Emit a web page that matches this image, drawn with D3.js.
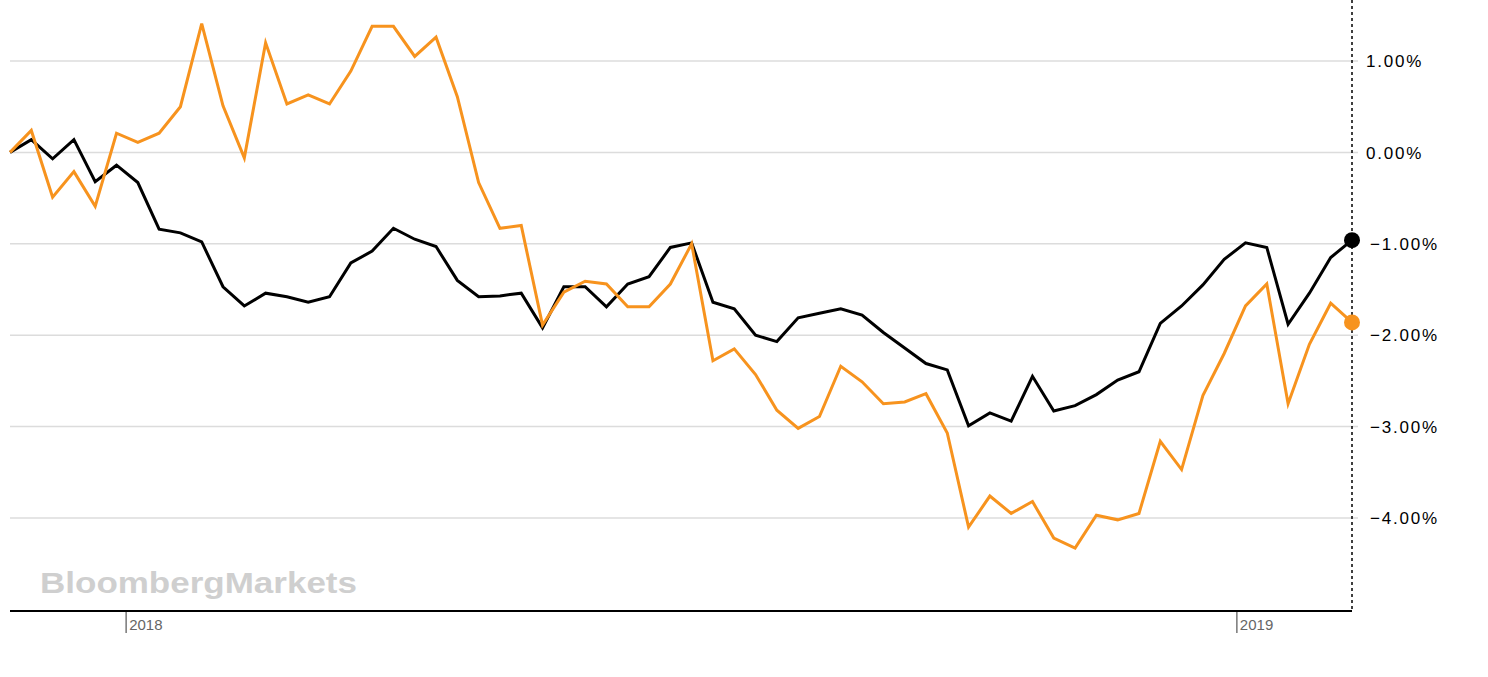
<!DOCTYPE html>
<html><head><meta charset="utf-8">
<script src="https://cdn.jsdelivr.net/npm/d3@7/dist/d3.min.js"></script>
<style>
html,body{margin:0;padding:0;background:#fff;}
svg{display:block;}
</style></head>
<body>
<svg id="chart" width="1488" height="677"></svg>
<script>
// weekly observations, starting Friday 24 Nov 2017
const startDate = new Date(2017, 10, 24);
const blackSeries = [0,0.14,-0.07,0.14,-0.32,-0.14,-0.33,-0.84,-0.88,-0.98,-1.47,-1.68,-1.54,-1.58,-1.64,-1.58,
  -1.21,-1.08,-0.83,-0.95,-1.03,-1.40,-1.58,-1.57,-1.54,-1.92,-1.47,-1.47,-1.69,-1.44,-1.36,-1.04,
  -0.99,-1.64,-1.71,-2.00,-2.07,-1.81,-1.76,-1.71,-1.78,-1.97,-2.14,-2.31,-2.38,-2.99,-2.85,-2.94,
  -2.45,-2.83,-2.77,-2.65,-2.49,-2.40,-1.87,-1.68,-1.45,-1.17,-0.99,-1.04,-1.88,-1.54,-1.15,-0.96];
const orangeSeries = [0,0.24,-0.49,-0.21,-0.59,0.21,0.11,0.21,0.50,1.41,0.51,-0.06,1.20,0.53,0.63,0.53,
  0.89,1.38,1.38,1.05,1.26,0.61,-0.33,-0.83,-0.80,-1.89,-1.53,-1.41,-1.44,-1.69,-1.69,-1.44,
  -1.00,-2.28,-2.15,-2.43,-2.82,-3.02,-2.89,-2.34,-2.51,-2.75,-2.73,-2.64,-3.07,-4.10,-3.76,-3.95,
  -3.82,-4.22,-4.33,-3.97,-4.02,-3.95,-3.16,-3.47,-2.66,-2.20,-1.68,-1.44,-2.75,-2.10,-1.65,-1.86];
const yTicks = [1,0,-1,-2,-3,-4];
const xTickDates = [new Date(2018,0,1), new Date(2019,0,1)];
const xTickLabels = ["2018","2019"];

const dates = blackSeries.map((_, i) => d3.timeDay.offset(startDate, 7*i));

const svg = d3.select("#chart");
const x = d3.scaleTime().domain([dates[0], dates[dates.length-1]]).range([10, 1352]);
const y = d3.scaleLinear().domain([1, -4]).range([61, 518]);

// gridlines
svg.append("g").selectAll("line").data(yTicks).join("line")
  .attr("x1", 10).attr("x2", 1358)
  .attr("y1", d => y(d)).attr("y2", d => y(d))
  .attr("stroke", "#dcdcdc").attr("stroke-width", 1.5);

// right axis labels
const yAxis = d3.axisRight(y).tickValues(yTicks).tickSize(0).tickPadding(0)
  .tickFormat(d => d3.format(".2f")(d) + "%");
const ya = svg.append("g").attr("transform", "translate(1366,0)").call(yAxis);
ya.select(".domain").remove();
ya.selectAll("text")
  .attr("font-family", "Liberation Sans, Arial, sans-serif")
  .attr("font-size", 17).attr("fill", "#000")
  .attr("letter-spacing", 1.8)
  .attr("dx", d => d < 0 ? 4 : 0)
  .attr("dy", "0.34em");

// watermark
svg.append("text").attr("x", 40).attr("y", 593)
  .attr("font-family", "Liberation Sans, Arial, sans-serif")
  .attr("font-weight", "bold").attr("font-size", 30)
  .attr("fill", "#cfcfcf")
  .attr("textLength", 317).attr("lengthAdjust", "spacingAndGlyphs")
  .text("BloombergMarkets");

// lines
const line = d3.line().x((d, i) => x(dates[i])).y(d => y(d));
svg.append("path").datum(blackSeries).attr("d", line)
  .attr("fill", "none").attr("stroke", "#000").attr("stroke-width", 3).attr("stroke-linejoin", "miter");
svg.append("path").datum(orangeSeries).attr("d", line)
  .attr("fill", "none").attr("stroke", "#f7931e").attr("stroke-width", 3).attr("stroke-linejoin", "miter");

// bottom axis
const xAxis = d3.axisBottom(x).tickValues(xTickDates).tickSize(0)
  .tickFormat((d, i) => xTickLabels[i]);
const xa = svg.append("g").attr("transform", "translate(0,611)").call(xAxis);
xa.select(".domain").remove();
svg.append("line").attr("x1", 10).attr("x2", 1352).attr("y1", 611).attr("y2", 611)
  .attr("stroke", "#000").attr("stroke-width", 2);
xa.selectAll(".tick").append("line").attr("x1", 0).attr("x2", 0).attr("y1", 1).attr("y2", 22)
  .attr("stroke", "#777").attr("stroke-width", 1.5);
xa.selectAll(".tick text")
  .attr("x", 3).attr("y", 19).attr("dy", 0).attr("text-anchor", "start")
  .attr("font-family", "Liberation Sans, Arial, sans-serif")
  .attr("font-size", 15).attr("fill", "#666");

// dotted right edge
svg.append("line").attr("x1", 1352).attr("x2", 1352).attr("y1", 0).attr("y2", 611)
  .attr("stroke", "#000").attr("stroke-width", 1.5).attr("stroke-dasharray", "3,3");

// end dots
const last = dates.length - 1;
svg.append("circle").attr("cx", x(dates[last])).attr("cy", y(orangeSeries[last])).attr("r", 8).attr("fill", "#f7931e");
svg.append("circle").attr("cx", x(dates[last])).attr("cy", y(blackSeries[last])).attr("r", 8).attr("fill", "#000");
</script>
</body></html>
